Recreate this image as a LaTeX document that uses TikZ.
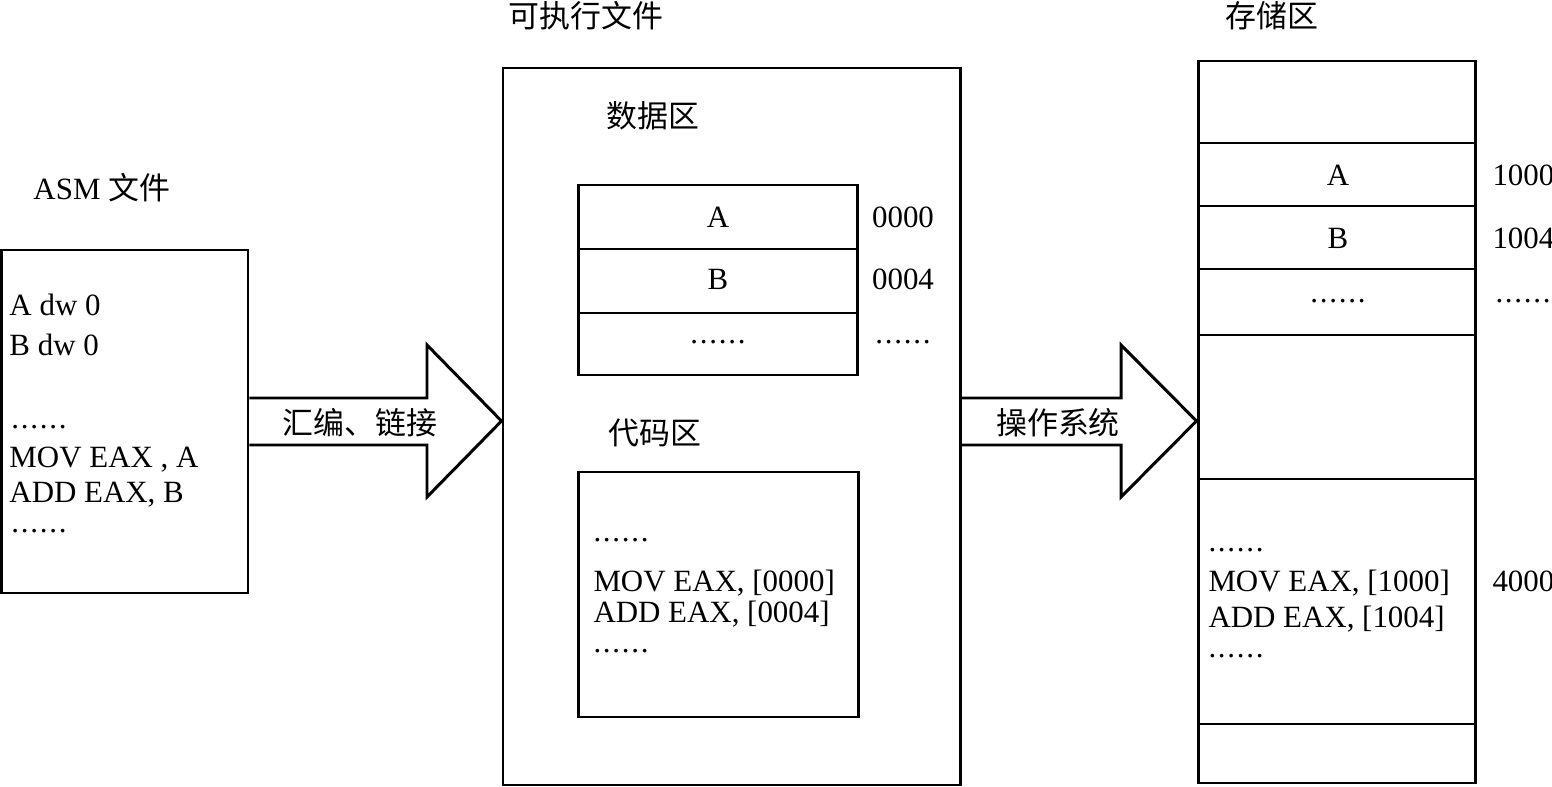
\documentclass[tikz,border=0pt]{standalone}
\usepackage{fontspec}
\setmainfont{Liberation Serif}
\newfontfamily\cjk{Noto Sans CJK SC}
\usetikzlibrary{fit}

\newcommand\sixdots{.\kern1pt.\kern1pt.\kern1pt.\kern1pt.\kern1pt.}

\begin{document}
\begin{tikzpicture}[
    x=0.02cm, y=-0.02cm,
    line width=1.7pt,
    every node/.style={font=\fontsize{17.6}{21}\selectfont, inner sep=0pt},
    box/.style={draw, fit={#1}},
    code/.style={anchor=base west},
    cell/.style={anchor=base},
    zh/.style={font=\fontsize{17.6}{21}\selectfont\cjk}
]
\useasboundingbox (0,0) rectangle (1552,787);

% boxes
\node[box={(1.5,250) (248,593)}] (asm) {};
\node[box={(503,68) (960,785)}] (exe) {};
\node[box={(578,185) (857,375)}] (data) {};
\node[box={(578,472) (858,717)}] (codebox) {};
\node[box={(1198,61) (1475,783)}] (mem) {};

\foreach \y in {249,313}
    \draw (data.west |- 0,\y) -- (data.east |- 0,\y);
\foreach \y in {143,206,269,335,479,724}
    \draw (mem.west |- 0,\y) -- (mem.east |- 0,\y);

% block arrows
\draw (asm.east |- 0,398) -- (427,398) -- (427,345) -- (exe.west |- 0,421)
    -- (427,497) -- (427,445) -- (asm.east |- 0,445);
\draw (exe.east |- 0,398) -- (1121,398) -- (1121,345) -- (mem.west |- 0,421)
    -- (1121,497) -- (1121,445) -- (exe.east |- 0,445);
\node[zh] (asmlink) at (360,423) {汇编、链接};
\node[zh] (os) at (1058,423) {操作系统};

% titles
\node[code] (asmtitle) at (32,200) {ASM {\cjk 文件}};
\node[zh] (exetitle) at (586,16) {可执行文件};
\node[zh] (memtitle) at (1272,16) {存储区};
\node[zh] (datatitle) at (653,116) {数据区};
\node[zh] (codetitle) at (655,433) {代码区};

% ASM source
\node[code] (s1) at (8,316) {A dw 0};
\node[code] (s2) at (8,356) {B dw 0};
\node[code] (s3) at (10,428) {\sixdots};
\node[code] (s4) at (8,467) {MOV EAX , A};
\node[code] (s5) at (8,502) {ADD EAX, B};
\node[code] (s6) at (10,532) {\sixdots};

% data area
\node[cell] (da) at (718,228) {A};
\node[cell] (db) at (718,290) {B};
\node[cell] (dd) at (718,343) {\sixdots};
\node[cell] (da0) at (903,228) {0000};
\node[cell] (db0) at (903,290) {0004};
\node[cell] (dd0) at (903,343) {\sixdots};

% code area
\node[code] (c1) at (592,541) {\sixdots};
\node[code] (c2) at (592,591) {MOV EAX, [0000]};
\node[code] (c3) at (592,622) {ADD EAX, [0004]};
\node[code] (c4) at (592,652) {\sixdots};

% memory
\node[cell] (ma) at (1338,186) {A};
\node[cell] (mb) at (1338,249) {B};
\node[cell] (md) at (1338,302) {\sixdots};
\node[code] (ma0) at (1491,186) {1000};
\node[code] (mb0) at (1491,249) {1004};
\node[code] (md0) at (1494,302) {\sixdots};
\node[code] (m1) at (1207,551) {\sixdots};
\node[code] (m2) at (1207,591) {MOV EAX, [1000]};
\node[code] (m3) at (1207,627) {ADD EAX, [1004]};
\node[code] (m4) at (1207,657) {\sixdots};
\node[code] (m40) at (1491,591) {4000};
\end{tikzpicture}
\end{document}
